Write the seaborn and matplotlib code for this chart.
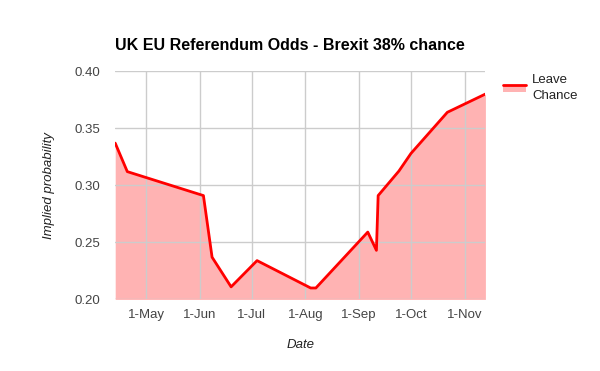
import pandas as pd
import seaborn as sns
import matplotlib.pyplot as plt
from matplotlib.legend_handler import HandlerBase
from matplotlib.patches import Rectangle
from matplotlib.lines import Line2D

# Leave chance (2015)
dates = ["2015-04-13", "2015-04-20", "2015-06-03", "2015-06-08", "2015-06-19",
         "2015-07-04", "2015-08-04", "2015-08-07", "2015-09-06", "2015-09-11",
         "2015-09-12", "2015-09-24", "2015-10-01", "2015-10-22", "2015-11-13"]
leave = [0.337, 0.312, 0.291, 0.237, 0.211,
         0.234, 0.210, 0.210, 0.259, 0.243,
         0.291, 0.3125, 0.328, 0.364, 0.380]

month_ticks = ["2015-05-01", "2015-06-01", "2015-07-01", "2015-08-01",
               "2015-09-01", "2015-10-01", "2015-11-01"]
month_labels = ["1-May", "1-Jun", "1-Jul", "1-Aug", "1-Sep", "1-Oct", "1-Nov"]
y_ticks = [0.20, 0.25, 0.30, 0.35, 0.40]

FILL = "#ffb3b3"


class AreaHandler(HandlerBase):
    # red line on top, pink area underneath, like the area-chart legend
    def create_artists(self, legend, orig, xd, yd, w, h, fontsize, trans):
        top = yd + h * 0.75
        rect = Rectangle((xd, yd + h * 0.05), w, top - yd - h * 0.05,
                         facecolor=FILL, edgecolor="none", transform=trans)
        line = Line2D([xd, xd + w], [top, top], color="red", lw=2, transform=trans)
        return [rect, line]


df = pd.DataFrame({"Date": pd.to_datetime(dates), "Leave Chance": leave})

sns.set_style("white")
plt.rcParams["font.family"] = ["Liberation Sans", "DejaVu Sans"]

fig = plt.figure(figsize=(6, 3.71), dpi=100)
ax = fig.add_axes([0.192, 0.193, 0.617, 0.615])

ax.fill_between(df["Date"], 0.20, df["Leave Chance"], color=FILL, lw=0, zorder=2)
sns.lineplot(data=df, x="Date", y="Leave Chance", color="red", lw=2, ax=ax,
             zorder=3, legend=False)

ax.set_xlim(pd.Timestamp("2015-04-13"), pd.Timestamp("2015-11-13"))
ax.set_ylim(0.20, 0.40)
ax.set_xticks(pd.to_datetime(month_ticks))
ax.set_xticklabels(month_labels)
ax.set_yticks(y_ticks)
ax.set_yticklabels([f"{v:.2f}" for v in y_ticks])
ax.grid(True, color="#cccccc", lw=1, zorder=1)
ax.set_axisbelow(False)
for sp in ax.spines.values():
    sp.set_visible(False)
ax.axhline(0.20, color="#cccccc", lw=1, zorder=1)
ax.tick_params(length=0, labelsize=9.5, labelcolor="#444444")
ax.tick_params(axis="x", pad=7)
ax.tick_params(axis="y", pad=11)

ax.set_xlabel("Date", style="italic", fontsize=9.5, color="#222222", labelpad=13)
ax.set_ylabel("Implied probability", style="italic", fontsize=9.5, color="#222222", labelpad=14)
fig.text(0.192, 0.878, "UK EU Referendum Odds - Brexit 38% chance",
         fontsize=11.5, fontweight="bold", color="black", va="center")

leg = fig.legend([object()], ["Leave\nChance"], loc="upper left",
                 handler_map={object: AreaHandler()},
                 bbox_to_anchor=(0.83, 0.815), frameon=False, fontsize=9.5,
                 handlelength=1.7, handletextpad=0.5, borderaxespad=0)
for t in leg.get_texts():
    t.set_color("#222222")
    t.set_linespacing(1.4)

fig.savefig("out.png", dpi=100)
